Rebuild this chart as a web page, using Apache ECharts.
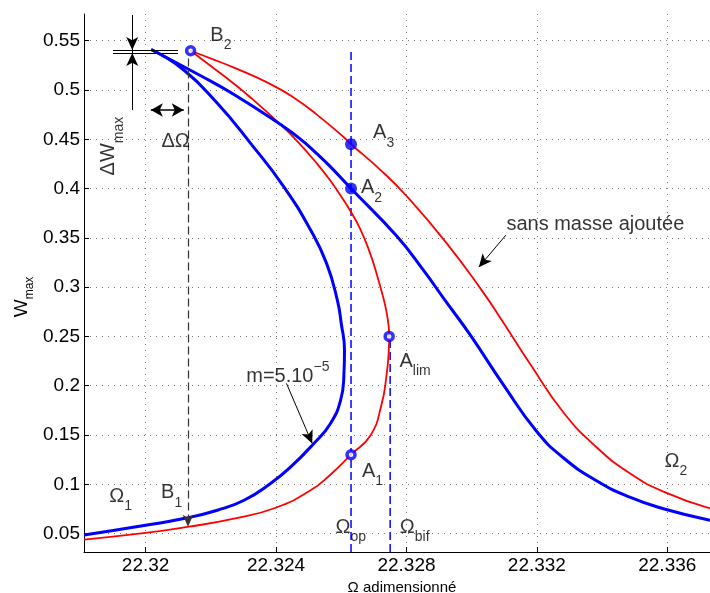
<!DOCTYPE html>
<html><head><meta charset="utf-8">
<script src="https://cdn.jsdelivr.net/npm/echarts@6/dist/echarts.min.js"></script>
<style>html,body{margin:0;padding:0;background:#fff}#c{width:710px;height:593px}</style>
</head><body><div id="c"></div>
<script>
const FONT = 'Liberation Sans, Arial, Helvetica, sans-serif';

// ---- axes ----
const xTicks = [22.32, 22.324, 22.328, 22.332, 22.336];
const yTicks = [0.05, 0.1, 0.15, 0.2, 0.25, 0.3, 0.35, 0.4, 0.45, 0.5, 0.55];
const xRange = [22.31811, 22.33731];
const yRange = [0.0313, 0.5771];

// ---- curves (Omega, Wmax) ----
// "sans masse ajoutée" (red): lower branch -> A_lim -> unstable branch -> B2
const redLowerBranch = [
  [22.31811,0.0439],[22.32000,0.0506],[22.32128,0.0567],[22.32271,0.0652],[22.32399,0.0762],
  [22.32506,0.0940],[22.32565,0.1092],[22.32630,0.1300],[22.32690,0.1498],[22.32723,0.1802],
  [22.32739,0.2107],[22.32746,0.2361],[22.32747,0.2500],[22.32745,0.2614],[22.32739,0.2746],
  [22.32731,0.2868],[22.32708,0.3142],[22.32685,0.3376],[22.32657,0.3599],[22.32629,0.3767],
  [22.32599,0.3924],[22.32569,0.4069],[22.32525,0.4256],[22.32462,0.4492],[22.32410,0.4662],
  [22.32319,0.4932],[22.32266,0.5076],[22.32210,0.5218],[22.32138,0.5398]
];
// red upper branch: B2 -> right edge
const redUpperBranch = [
  [22.32138,0.5398],[22.32203,0.5316],[22.32271,0.5227],[22.32383,0.5060],[22.32455,0.4922],
  [22.32526,0.4748],[22.32608,0.4521],[22.32630,0.4450],[22.32719,0.4193],[22.32801,0.3922],
  [22.32923,0.3447],[22.33031,0.2967],[22.33097,0.2642],[22.33179,0.2222],[22.33281,0.1731],
  [22.33383,0.1376],[22.33485,0.1112],[22.33588,0.0926],[22.33731,0.0755]
];
// m = 5.10^-5 (blue): lower branch -> turning point -> unstable branch -> peak
const blueLowerBranch = [
  [22.31811,0.0485],[22.32000,0.0584],[22.32117,0.0652],[22.32220,0.0737],[22.32302,0.0838],
  [22.32383,0.1008],[22.32445,0.1176],[22.32516,0.1414],[22.32567,0.1617],[22.32598,0.1853],
  [22.32608,0.2097],[22.32610,0.2361],[22.32600,0.2632],[22.32588,0.2868],[22.32555,0.3241],
  [22.32506,0.3579],[22.32424,0.4018],[22.32322,0.4459],[22.32220,0.4865],[22.32117,0.5203],
  [22.32017,0.5411]
];
// blue upper branch: peak -> right edge
const blueUpperBranch = [
  [22.32017,0.5411],[22.32169,0.5144],[22.32271,0.4954],[22.32414,0.4649],[22.32473,0.4507],
  [22.32526,0.4352],[22.32565,0.4228],[22.32630,0.4000],[22.32770,0.3518],[22.32852,0.3173],
  [22.32918,0.2868],[22.32995,0.2518],[22.33097,0.2011],[22.33199,0.1538],[22.33281,0.1269],
  [22.33383,0.1036],[22.33485,0.0869],[22.33588,0.0752],[22.33731,0.0635]
];

// ---- special points ----
const ringPoints = [[22.32138,0.5398],[22.32747,0.2500],[22.32630,0.1300]]; // B2, Alim, A1
const dotPoints = [[22.32630,0.4450],[22.32630,0.4000]];                   // A3, A2
const omegaOpLine = [[22.32630,0.0314],[22.32630,0.5406]];
const omegaBifLine = [[22.32750,0.0314],[22.32750,0.2500]];
const b1Line = [[22.32130,0.5320],[22.32130,0.0568]];

// ---- annotation geometry ----
const arrowSegs = [
  [[22.33105,0.3528],[22.33022,0.3203]],   // sans masse ajoutée
  [[22.32432,0.2023],[22.32511,0.1414]],   // m=5.10^-5
  [[22.31959,0.5609],[22.31959,0.5406]],   // dW top
  [[22.31959,0.5151],[22.31959,0.5375]]    // dW bottom
];
const plainSegs = [
  [[22.31959,0.5761],[22.31959,0.4797]],
  [[22.31900,0.5406],[22.32099,0.5406]],
  [[22.31900,0.5375],[22.32099,0.5375]]
];
const doubleArrowSegs = [[[22.32016,0.4797],[22.32117,0.4797]]];

// ---- text labels ----
const subLabelMain = ['B','A','A','A','A','\u03A9','\u03A9','\u03A9','B','\u03A9'];
const subLabelSub  = ['2','3','2','lim','1','op','bif','1','1','2'];
const subLabelAt = [
  [22.32197,0.5558],[22.32696,0.4566],[22.32659,0.4008],[22.32777,0.2249],[22.32662,0.1133],
  [22.32581,0.0561],[22.32778,0.0561],[22.31887,0.0879],[22.32046,0.0914],[22.33590,0.1231]
];
const plainLabelText = ['sans masse ajout\u00e9e', '\u0394\u03A9'];
const plainLabelAt = [[22.33105,0.3632],[22.32047,0.4479]];
const massLabelAt = [22.32307,0.2155];
const dWLabelAt = [22.31887,0.4431];

const richSub = {
  m: {fontSize:20, lineHeight:20, verticalAlign:'top', color:'#000', fontFamily:FONT},
  s: {fontSize:14, lineHeight:14, padding:[13,0,0,0], verticalAlign:'top', color:'#000', fontFamily:FONT},
  p: {fontSize:20, lineHeight:20, padding:[6,0,0,0], verticalAlign:'top', color:'#000', fontFamily:FONT},
  e: {fontSize:14, lineHeight:14, verticalAlign:'top', color:'#000', fontFamily:FONT},
  t: {fontSize:20, lineHeight:20, color:'#000', fontFamily:FONT}
};

const labelData = [];
subLabelMain.forEach((m,i)=>labelData.push({value:subLabelAt[i],
  label:{position:'right', distance:0, formatter:'{m|'+m+'}{s|'+subLabelSub[i]+'}'}}));
plainLabelText.forEach((t,i)=>labelData.push({value:plainLabelAt[i],
  label:{position:'right', distance:0, formatter:'{t|'+t+'}'}}));
labelData.push({value:massLabelAt, label:{position:'right', distance:0, formatter:'{p|m=5.10}{e|\u22125}'}});
labelData.push({value:dWLabelAt, label:{position:'inside', rotate:90, align:'center', verticalAlign:'middle',
  formatter:'{m|\u0394W}{s|max}'}});

const segToML = segs => segs.map(s => [{coord:s[0]},{coord:s[1]}]);
const helper = (name, segs, symbol, lineStyle, size) => ({
  name, type:'line', data:[], silent:true, z:6,
  markLine:{silent:true, animation:false, symbol, symbolSize:size,
    label:{show:false}, emphasis:{disabled:true}, lineStyle, data:segToML(segs)}
});

const chart = echarts.init(document.getElementById('c'));
const fmtX = v => String(parseFloat(v.toFixed(3)));
const fmtY = v => String(parseFloat(v.toFixed(2)));
const gridDots = {show:true, lineStyle:{color:'#777', type:[1,5], width:1}};
const SMOOTH = 0.5;

chart.setOption({
  animation:false,
  backgroundColor:'#fff',
  grid:{left:84, right:0, top:14, bottom:41, containLabel:false, outerBoundsMode:'none'},
  xAxis:{type:'value', min:xRange[0], max:xRange[1],
    axisLine:{show:true, onZero:false, lineStyle:{color:'#000', width:1}},
    axisTick:{show:true, inside:true, length:5, customValues:xTicks, lineStyle:{color:'#000'}},
    axisLabel:{customValues:xTicks, formatter:fmtX, color:'#000', fontSize:19, fontFamily:FONT, margin:4},
    splitLine:gridDots,
    name:'\u03A9 adimensionn\u00e9', nameLocation:'middle', nameGap:28,
    nameTextStyle:{color:'#000', fontSize:15, fontFamily:FONT, padding:[0,0,0,10]}
  },
  yAxis:{type:'value', min:yRange[0], max:yRange[1],
    axisLine:{show:true, onZero:false, lineStyle:{color:'#000', width:1}},
    axisTick:{show:true, inside:true, length:5, customValues:yTicks, lineStyle:{color:'#000'}},
    axisLabel:{customValues:yTicks, formatter:fmtY, color:'#000', fontSize:19, fontFamily:FONT, margin:4},
    splitLine:gridDots
  },
  graphic:[{type:'text', x:22, y:297, rotation:Math.PI/2, silent:true,
    style:{text:'{m|W}{s|max}', align:'center', verticalAlign:'middle', fill:'#000',
      rich:{m:{fontSize:19, lineHeight:20, verticalAlign:'top', fill:'#000', fontFamily:FONT},
            s:{fontSize:12, lineHeight:12, padding:[12,0,0,0], verticalAlign:'top', fill:'#000', fontFamily:FONT}}}}],
  series:[
    {name:'op', type:'line', data:omegaOpLine, symbol:'none', silent:true, z:2,
      lineStyle:{color:'#0000ff', width:1.5, type:[8,4]}},
    {name:'bif', type:'line', data:omegaBifLine, symbol:'none', silent:true, z:2,
      lineStyle:{color:'#0000ff', width:1.5, type:[8,4]}},
    {name:'redLow', type:'line', data:redLowerBranch, symbol:'none', smooth:SMOOTH, silent:true, z:3,
      lineStyle:{color:'#ff0000', width:1.8}},
    {name:'redUp', type:'line', data:redUpperBranch, symbol:'none', smooth:SMOOTH, silent:true, z:3,
      lineStyle:{color:'#ff0000', width:1.8}},
    {name:'blueLow', type:'line', data:blueLowerBranch, symbol:'none', smooth:SMOOTH, silent:true, z:4,
      lineStyle:{color:'#0000ff', width:3}},
    {name:'blueUp', type:'line', data:blueUpperBranch, symbol:'none', smooth:SMOOTH, silent:true, z:4,
      lineStyle:{color:'#0000ff', width:3}},
    helper('b1', [b1Line], ['none','arrow'], {color:'#333', width:1.2, type:[8,4]}, [8,12]),
    helper('arrows', arrowSegs, ['none','arrow'], {color:'#000', width:1, type:'solid'}, [9,13]),
    helper('plain', plainSegs, ['none','none'], {color:'#000', width:1, type:'solid'}, 0),
    helper('dbl', doubleArrowSegs, ['arrow','arrow'], {color:'#000', width:1.5, type:'solid'}, [10,12]),
    {name:'rings', type:'scatter', data:ringPoints, symbol:'circle', symbolSize:8, silent:true, z:8,
      itemStyle:{color:'#fff', borderColor:'#0000ff', borderWidth:3.5}},
    {name:'dots', type:'scatter', data:dotPoints, symbol:'circle', symbolSize:12, silent:true, z:8,
      itemStyle:{color:'#0000ff'}},
    {name:'labels', type:'scatter', data:labelData, symbolSize:1, silent:true, z:9,
      itemStyle:{color:'rgba(0,0,0,0)'},
      label:{show:true, color:'#000', fontFamily:FONT, rich:richSub}}
  ]
});
</script></body></html>
